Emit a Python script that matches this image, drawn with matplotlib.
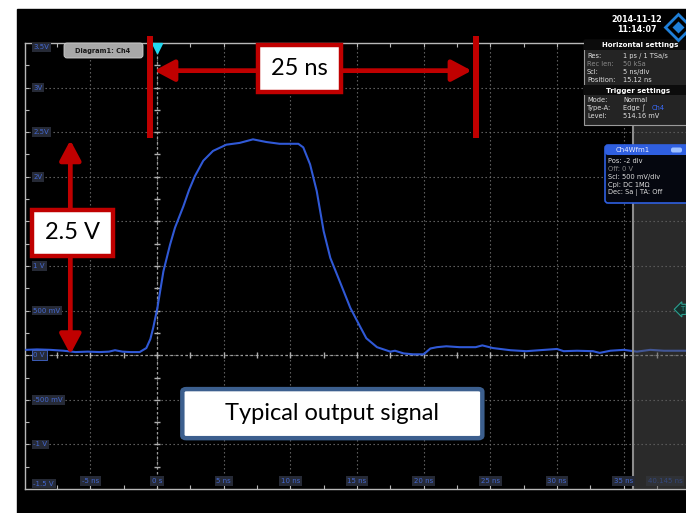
"""
Oscilloscope capture: typical output signal (Ch4)
"""

import numpy as np
import matplotlib.pyplot as plt
from matplotlib.patches import Rectangle, FancyBboxPatch

# waveform: time in ns, level in V
t_ns = [-9.8, -9.0, -8.0, -7.0, -6.1, -5.2, -4.3, -3.6, -3.15, -2.6,
        -2.0, -1.3, -0.8, -0.5, -0.28, 0.03, 0.48, 0.98, 1.35, 1.98,
        2.4, 2.85, 3.47, 4.2, 5.2, 6.2, 7.2, 8.2, 9.2, 10.0,
        10.6, 10.97, 11.48, 11.98, 12.5, 13.0, 13.7, 14.5, 15.2, 15.7,
        16.5, 17.5, 17.85, 18.5, 19.2, 20.0, 20.5, 21.0, 21.7, 22.7,
        23.9, 24.4, 25.2, 26.5, 27.7, 28.7, 30.0, 30.5, 31.5, 32.7,
        33.2, 34.0, 35.0, 36.0, 37.0, 38.0, 39.0, 40.1]
volts = [0.06, 0.065, 0.06, 0.05, 0.035, 0.04, 0.035, 0.04, 0.056, 0.04,
         0.035, 0.035, 0.08, 0.18, 0.31, 0.53, 0.94, 1.24, 1.43, 1.67,
         1.85, 2.01, 2.18, 2.29, 2.36, 2.38, 2.42, 2.39, 2.37, 2.37,
         2.37, 2.33, 2.14, 1.84, 1.39, 1.09, 0.83, 0.53, 0.33, 0.19,
         0.09, 0.04, 0.05, 0.02, 0.01, 0.01, 0.075, 0.09, 0.10, 0.09,
         0.09, 0.11, 0.08, 0.056, 0.045, 0.056, 0.07, 0.045, 0.05, 0.045,
         0.026, 0.05, 0.06, 0.04, 0.06, 0.05, 0.05, 0.05]

x_grid = [-5, 0, 5, 10, 15, 20, 25, 30, 35]
x_labels = ['-5 ns', '0 s', '5 ns', '10 ns', '15 ns', '20 ns', '25 ns', '30 ns', '35 ns']
y_grid = [3.5, 3.0, 2.5, 2.0, 1.5, 1.0, 0.5, 0.0, -0.5, -1.0, -1.5]
y_labels = ['3.5V', '3V', '2.5V', '2V', '1.5V', '1 V', '500 mV', '0 V', '-500 mV', '-1 V', '-1.5 V']

t_min, t_max = -9.88, 40.12
v_min, v_max = -1.5, 3.5
trig_level = 0.514
shade_from = 35.7

hs_rows = [('Res:', '1 ps / 1 TSa/s'), ('Rec len:', '50 kSa'),
           ('Scl:', '5 ns/div'), ('Position:', '15.12 ns')]
trig_rows = [('Mode:', 'Normal'), ('Type-A:', 'Edge \u222b'), ('Level:', '514.16 mV')]
ch_rows = ['Pos: -2 div', 'Off: 0 V', 'Scl: 500 mV/div', 'Cpl: DC 1M\u03a9', 'Dec: Sa | TA: Off']

RED = '#c00000'
BLUE = '#3059d6'
LBL = '#4468d0'
LBL_BG = '#262a36'

W, H = 686, 513
fig = plt.figure(figsize=(W / 100, H / 100), dpi=100, facecolor='white')
fig.add_artist(Rectangle((17 / W, 0), (W - 17) / W, (H - 9) / H,
                         transform=fig.transFigure, color='black', zorder=-5))

# scope grid: 5 ns/div, 500 mV/div
x0 = 157 + t_min * 13.333
ax = fig.add_axes([x0 / W, 24 / H, (t_max - t_min) * 13.333 / W, 446 / H],
                  facecolor='black', zorder=1)
ax.set_xlim(t_min, t_max)
ax.set_ylim(v_min, v_max)
for s in ['left', 'top', 'bottom']:
    ax.spines[s].set_color('#b8b8b8')
    ax.spines[s].set_linewidth(1.0)
ax.spines['right'].set_visible(False)
ax.set_xticks(np.arange(-7.5, 40, 2.5))
ax.set_yticks(np.arange(-1.25, 3.5, 0.25))
ax.tick_params(direction='in', length=3, color='#b8b8b8', labelleft=False,
               labelbottom=False, top=True, bottom=True, left=True, width=0.8)

dots = (0, (1.2, 2.4))
for x in x_grid:
    ax.axvline(x, color='#6e6e6e', lw=0.8, linestyle=dots, zorder=1)
for y in y_grid[1:-1]:
    ax.axhline(y, color='#6e6e6e', lw=0.8, linestyle=dots, zorder=1)
ax.axhline(0, color='#9a9a9a', lw=0.9, linestyle=(0, (2, 2)), zorder=1)
ax.axvline(0, color='#9a9a9a', lw=0.9, linestyle=(0, (2, 2)), zorder=1)
ax.plot(np.arange(-7.5, 40, 2.5), np.zeros(19), ls='none', marker='|',
        ms=4, color='#b0b0b0', zorder=1)
ax.plot(np.zeros(19), np.arange(-1.25, 3.5, 0.25), ls='none', marker='_',
        ms=4, color='#b0b0b0', zorder=1)

ax.plot(t_ns, volts, color=BLUE, lw=1.5, zorder=3)

# history area on the right
ax.axvspan(shade_from, t_max + 1, color='#555555', alpha=0.5, lw=0, zorder=4)
ax.axvline(shade_from, color='#8c8c8c', lw=1.5, zorder=4)

# axis labels in the scope style
ytr = ax.get_yaxis_transform()
for y, lab in zip(y_grid, y_labels):
    yy = y - 0.05 if y == v_max else (y + 0.06 if y == v_min else y)
    ec = LBL if y == 0 else 'none'
    ax.text(0.012, yy, lab, transform=ytr, ha='left', va='center', fontsize=5,
            color=LBL, zorder=6,
            bbox=dict(boxstyle='square,pad=0.25', fc=LBL_BG, ec=ec, lw=0.6))
for x, lab in zip(x_grid, x_labels):
    ax.text(x, v_min + 0.09, lab, ha='center', va='center', fontsize=5,
            color=LBL, zorder=6,
            bbox=dict(boxstyle='square,pad=0.25', fc=LBL_BG, ec='none'))
ax.text(t_max - 2.0, v_min + 0.09, '40.145 ns', ha='center', va='center',
        fontsize=5, color='#34477a', zorder=6,
        bbox=dict(boxstyle='square,pad=0.25', fc='#303236', ec='none'))

# trigger marker
ax.plot(0, v_max - 0.06, marker='v', ms=7, color='#22d8f0', clip_on=False, zorder=7)

# annotations: 25 ns width and 2.5 V amplitude
for tb in (-0.5, 23.9):
    ax.plot([tb, tb], [3.58, 2.43], color=RED, lw=4.3, solid_capstyle='butt',
            clip_on=False, zorder=8)
arrow = dict(arrowstyle='<|-|>,head_length=0.6,head_width=0.32', color=RED,
             lw=3.4, shrinkA=0, shrinkB=0, mutation_scale=20)
ax.annotate('', xy=(23.6, 3.19), xytext=(-0.2, 3.19), arrowprops=arrow,
            annotation_clip=False, zorder=8)
ax.annotate('', xy=(-6.5, 2.41), xytext=(-6.5, 0.01), arrowprops=arrow,
            annotation_clip=False, zorder=8)
ax.text(10.7, 3.21, '25 ns', ha='center', va='center', fontsize=17,
        family='Lato', color='black', zorder=9,
        bbox=dict(boxstyle='square,pad=0.55', fc='white', ec=RED, lw=3.2))
ax.text(-6.35, 1.37, '2.5 V', ha='center', va='center', fontsize=17,
        family='Lato', color='black', zorder=9,
        bbox=dict(boxstyle='square,pad=0.55', fc='white', ec=RED, lw=3.2))
ax.add_patch(FancyBboxPatch((1.9, -0.93), 22.5, 0.55,
                            boxstyle='round,pad=0,rounding_size=0.3',
                            fc='white', ec='#3c5f8e', lw=3.2, zorder=9,
                            mutation_aspect=0.1))
ax.text(13.15, -0.655, 'Typical output signal', ha='center', va='center',
        fontsize=17, family='Lato', color='black', zorder=10)

# instrument overlays, in screen pixels
ov = fig.add_axes([0, 0, 1, 1], zorder=3)
ov.set_xlim(0, W)
ov.set_ylim(H, 0)
ov.axis('off')

# diagram tab
ov.add_patch(FancyBboxPatch((64, 43), 79, 15, boxstyle='round,pad=0,rounding_size=3',
                            fc='#a8a8a8', ec='#d0d0d0', lw=0.6))
ov.text(103, 51, 'Diagram1: Ch4', ha='center', va='center', fontsize=4.8,
        fontweight='bold', color='#1a1a1a')

# date and logo
ov.text(637, 19, '2014-11-12', ha='center', va='center', fontsize=5.8,
        fontweight='bold', color='white')
ov.text(637, 29, '11:14:07', ha='center', va='center', fontsize=5.8,
        fontweight='bold', color='white')
ov.plot(678, 27, marker='D', ms=13, mfc='none', mec='#1f7fd8', mew=2)
ov.plot(678, 27, marker='D', ms=6, mfc='#1f7fd8', mec='none')

# horizontal / trigger settings
ov.add_patch(Rectangle((584, 40), 104, 85, fc='#242424', ec='#9a9a9a', lw=0.8))
ov.add_patch(Rectangle((584, 40), 104, 10, fc='#0c0c0c', ec='none'))
ov.add_patch(Rectangle((584, 85), 104, 10, fc='#0c0c0c', ec='none'))
ov.text(640, 45.5, 'Horizontal settings', ha='center', va='center', fontsize=5,
        fontweight='bold', color='white')
ov.text(638, 90.5, 'Trigger settings', ha='center', va='center', fontsize=5,
        fontweight='bold', color='white')
for i, (k, v) in enumerate(hs_rows):
    c = '#8a8a8a' if k.startswith('Rec') else '#e0e0e0'
    ov.text(587, 56 + i * 8, k, va='center', fontsize=4.8, color=c)
    ov.text(623, 56 + i * 8, v, va='center', fontsize=4.8, color=c)
for i, (k, v) in enumerate(trig_rows):
    ov.text(587, 99.5 + i * 8.5, k, va='center', fontsize=4.8, color='#e0e0e0')
    ov.text(623, 99.5 + i * 8.5, v, va='center', fontsize=4.8, color='#e0e0e0')
ov.text(652, 108, 'Ch4', va='center', fontsize=4.8, color='#3a6cff')

# channel box
ov.add_patch(FancyBboxPatch((605, 145), 84, 58, boxstyle='round,pad=0,rounding_size=3',
                            fc='#05070f', ec='#2f5fe0', lw=1.2))
ov.add_patch(FancyBboxPatch((605, 145), 84, 10, boxstyle='round,pad=0,rounding_size=3',
                            fc='#2f5fe0', ec='none'))
ov.text(633, 150, 'Ch4Wfm1', ha='center', va='center', fontsize=5, color='#e8ecff')
ov.add_patch(FancyBboxPatch((671, 147.5), 11, 5, boxstyle='round,pad=0,rounding_size=2',
                            fc='#9ec0ff', ec='none'))
for i, r in enumerate(ch_rows):
    c = '#8a8a8a' if r.startswith('Off') else '#e0e0e0'
    ov.text(608, 161 + i * 8, r, va='center', fontsize=4.8, color=c)

# trigger level marker at right edge
yl = 513 - 24 - (trig_level - v_min) * 446 / (v_max - v_min)
ov.text(682, yl, 'T', ha='center', va='center', fontsize=5, color='#2aa090',
        bbox=dict(boxstyle='larrow,pad=0.3', fc='#14302c', ec='#2aa090', lw=0.8))

fig.savefig('out.png', dpi=100)
